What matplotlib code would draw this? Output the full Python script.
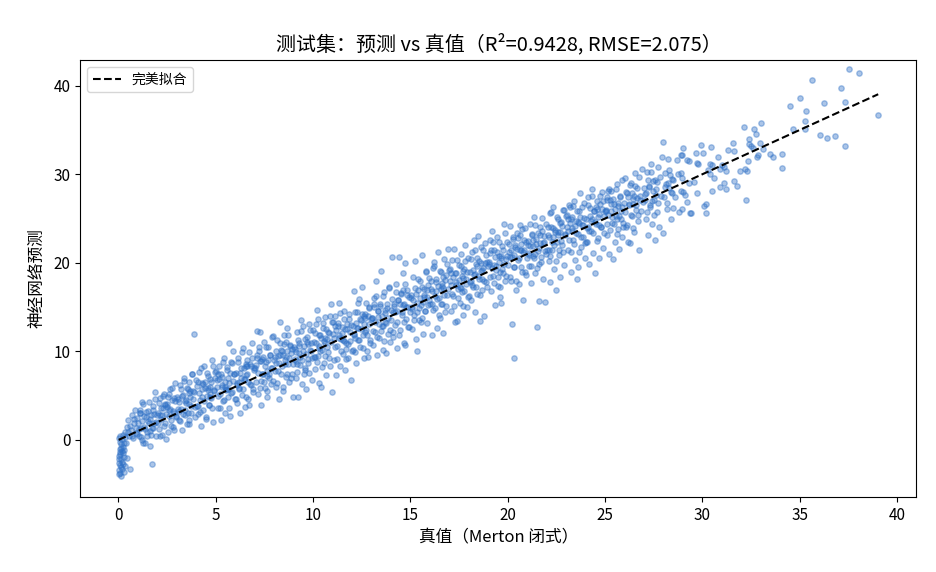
import numpy as np
import matplotlib
matplotlib.use("Agg")
import matplotlib.pyplot as plt

plt.rcParams["font.family"] = ["Noto Sans CJK SC", "DejaVu Sans"]
plt.rcParams["axes.unicode_minus"] = False

# 真值 (Merton closed form), one line per unit bin
true_vals = [
    0.02, 0.05, 0.08, 0.03, 0.10, 0.06, 0.12, 0.04, 0.15, 0.18, 0.20, 0.09, 0.22, 0.25, 0.30, 0.14, 0.35, 0.40, 0.45, 0.50, 0.55, 0.60, 0.65, 0.70, 0.75, 0.80, 0.85, 0.90, 0.95, 0.28, 0.33, 0.07,
    1.05, 1.10, 1.15, 1.20, 1.25, 1.30, 1.35, 1.40, 1.45, 1.50, 1.55, 1.60, 1.65, 1.70, 1.75, 1.80, 1.85, 1.90, 1.95, 1.22,
    2.05, 2.10, 2.15, 2.20, 2.25, 2.30, 2.35, 2.40, 2.45, 2.50, 2.55, 2.60, 2.65, 2.70, 2.75, 2.80, 2.85, 2.90, 2.95, 2.38,
    3.05, 3.10, 3.15, 3.20, 3.25, 3.30, 3.35, 3.40, 3.45, 3.50, 3.55, 3.60, 3.65, 3.70, 3.75, 3.80, 3.85, 3.90, 3.95, 3.42, 3.62,
    4.05, 4.10, 4.15, 4.20, 4.25, 4.30, 4.35, 4.40, 4.45, 4.50, 4.55, 4.60, 4.65, 4.70, 4.75, 4.80, 4.85, 4.90, 4.95, 4.28, 4.72,
    5.05, 5.10, 5.15, 5.20, 5.25, 5.30, 5.35, 5.40, 5.45, 5.50, 5.55, 5.60, 5.65, 5.70, 5.75, 5.80, 5.85, 5.90, 5.95, 5.32, 5.68,
    6.05, 6.10, 6.15, 6.20, 6.25, 6.30, 6.35, 6.40, 6.45, 6.50, 6.55, 6.60, 6.65, 6.70, 6.75, 6.80, 6.85, 6.90, 6.95, 6.22, 6.58,
    7.05, 7.10, 7.15, 7.20, 7.25, 7.30, 7.35, 7.40, 7.45, 7.50, 7.55, 7.60, 7.65, 7.70, 7.75, 7.80, 7.85, 7.90, 7.95, 7.28, 7.62,
    8.05, 8.10, 8.15, 8.20, 8.25, 8.30, 8.35, 8.40, 8.45, 8.50, 8.55, 8.60, 8.65, 8.70, 8.75, 8.80, 8.85, 8.90, 8.95, 8.32, 8.68,
    9.05, 9.10, 9.15, 9.20, 9.25, 9.30, 9.35, 9.40, 9.45, 9.50, 9.55, 9.60, 9.65, 9.70, 9.75, 9.80, 9.85, 9.90, 9.95, 9.28, 9.72,
    10.05, 10.10, 10.15, 10.20, 10.25, 10.30, 10.35, 10.40, 10.45, 10.50, 10.55, 10.60, 10.65, 10.70, 10.75, 10.80, 10.85, 10.90, 10.95, 10.28, 10.62,
    11.05, 11.10, 11.15, 11.20, 11.25, 11.30, 11.35, 11.40, 11.45, 11.50, 11.55, 11.60, 11.65, 11.70, 11.75, 11.80, 11.85, 11.90, 11.95, 11.32, 11.68,
    12.05, 12.10, 12.15, 12.20, 12.25, 12.30, 12.35, 12.40, 12.45, 12.50, 12.55, 12.60, 12.65, 12.70, 12.75, 12.80, 12.85, 12.90, 12.95, 12.32, 12.68,
    13.05, 13.10, 13.15, 13.20, 13.25, 13.30, 13.35, 13.40, 13.45, 13.50, 13.55, 13.60, 13.65, 13.70, 13.75, 13.80, 13.85, 13.90, 13.95, 13.32, 13.68,
    14.05, 14.10, 14.15, 14.20, 14.25, 14.30, 14.35, 14.40, 14.45, 14.50, 14.55, 14.60, 14.65, 14.70, 14.75, 14.80, 14.85, 14.90, 14.95, 14.32, 14.68,
    15.05, 15.10, 15.15, 15.20, 15.25, 15.30, 15.35, 15.40, 15.45, 15.50, 15.55, 15.60, 15.65, 15.70, 15.75, 15.80, 15.85, 15.90, 15.95, 15.32, 15.68,
    16.05, 16.10, 16.15, 16.20, 16.25, 16.30, 16.35, 16.40, 16.45, 16.50, 16.55, 16.60, 16.65, 16.70, 16.75, 16.80, 16.85, 16.90, 16.95, 16.32, 16.68,
    17.05, 17.10, 17.15, 17.20, 17.25, 17.30, 17.35, 17.40, 17.45, 17.50, 17.55, 17.60, 17.65, 17.70, 17.75, 17.80, 17.85, 17.90, 17.95, 17.32, 17.68,
    18.05, 18.10, 18.15, 18.20, 18.25, 18.30, 18.35, 18.40, 18.45, 18.50, 18.55, 18.60, 18.65, 18.70, 18.75, 18.80, 18.85, 18.90, 18.95, 18.32, 18.68,
    19.05, 19.10, 19.15, 19.20, 19.25, 19.30, 19.35, 19.40, 19.45, 19.50, 19.55, 19.60, 19.65, 19.70, 19.75, 19.80, 19.85, 19.90, 19.95, 19.32, 19.68,
    20.05, 20.10, 20.15, 20.20, 20.25, 20.30, 20.35, 20.40, 20.45, 20.50, 20.55, 20.60, 20.65, 20.70, 20.75, 20.80, 20.85, 20.90, 20.95, 20.32, 20.68,
    21.05, 21.10, 21.15, 21.20, 21.25, 21.30, 21.35, 21.40, 21.45, 21.50, 21.55, 21.60, 21.65, 21.70, 21.75, 21.80, 21.85, 21.90, 21.95, 21.32, 21.68,
    22.05, 22.10, 22.15, 22.20, 22.25, 22.30, 22.35, 22.40, 22.45, 22.50, 22.55, 22.60, 22.65, 22.70, 22.75, 22.80, 22.85, 22.90, 22.95, 22.32, 22.68,
    23.05, 23.10, 23.15, 23.20, 23.25, 23.30, 23.35, 23.40, 23.45, 23.50, 23.55, 23.60, 23.65, 23.70, 23.75, 23.80, 23.85, 23.90, 23.95, 23.32, 23.68,
    24.05, 24.10, 24.15, 24.20, 24.25, 24.30, 24.35, 24.40, 24.45, 24.50, 24.55, 24.60, 24.65, 24.70, 24.75, 24.80, 24.85, 24.90, 24.95, 24.32, 24.68,
    25.05, 25.10, 25.15, 25.20, 25.25, 25.30, 25.35, 25.40, 25.45, 25.50, 25.55, 25.60, 25.65, 25.70, 25.75, 25.80, 25.85, 25.90, 25.95, 25.32, 25.68,
    26.05, 26.10, 26.15, 26.20, 26.25, 26.30, 26.35, 26.40, 26.45, 26.50, 26.55, 26.60, 26.65, 26.70, 26.75, 26.80, 26.85, 26.90, 26.95, 26.42,
    27.05, 27.10, 27.15, 27.20, 27.25, 27.30, 27.35, 27.40, 27.45, 27.50, 27.55, 27.60, 27.65, 27.70, 27.75, 27.80, 27.85, 27.90, 27.95,
    28.00, 28.00, 28.10, 28.20, 28.30, 28.40, 28.50, 28.60, 28.70, 28.80, 28.90, 28.95, 28.45, 28.75, 28.25,
    28.90, 29.24, 29.30, 29.73, 29.80, 30.40, 30.50, 28.90, 28.95, 29.30, 29.60, 29.75, 29.20, 29.00, 29.10, 28.94, 29.37, 29.40, 30.10, 30.20,
    30.17, 30.52, 30.90, 31.10, 31.20, 31.65, 31.80, 32.26, 29.95, 30.47, 29.70, 30.05, 30.82, 29.00, 30.30, 30.40, 30.60, 31.20, 30.90, 31.00,
    31.10, 31.94, 32.20, 32.30, 32.37, 31.56, 31.34, 31.65, 32.50, 32.40, 32.60, 32.80, 32.85, 33.50, 33.65, 34.10, 34.10, 32.40, 32.97, 33.14,
    32.16, 32.67, 32.77, 33.03, 34.68, 35.27, 35.29, 34.52, 35.34, 35.02, 36.25, 37.35, 37.14, 35.65, 37.55, 38.07, 39.04, 36.05, 36.39, 36.82, 37.33,
]

# 神经网络预测, same order as true_vals
pred_vals = [
    -3.9, -3.4, -2.8, -2.2, -1.6, -1.0, -0.5, 0.2, -3.1, -2.5, -1.2, -0.2, 0.6, -0.8, -3.6, -4.1, 0.9, -0.3, 1.5, 2.2, 0.4, -3.3, 1.1, 2.8, 0.2, 1.9, 3.4, 0.8, 2.5, -1.9, -2.9, -1.4,
    1.2, 3.0, 0.3, 2.1, 4.1, 1.5, -0.4, 2.6, 0.9, 3.3, 1.9, 2.4, 0.6, -2.7, 3.8, 1.4, 2.9, 4.6, 2.0, 0.0,
    3.1, 1.2, 4.7, 2.4, 0.6, 3.6, 5.2, 1.9, 2.9, 4.1, 0.9, 3.4, 5.8, 2.2, 4.5, 1.5, 3.0, 6.4, 2.6, 3.9,
    4.6, 2.3, 6.2, 3.5, 1.1, 5.1, 7.0, 2.8, 4.2, 5.9, 3.1, 6.6, 1.8, 4.9, 3.8, 7.4, 5.5, 12.0, 2.6, 4.4, 5.3,
    6.1, 2.9, 7.7, 4.5, 1.6, 5.8, 3.4, 8.3, 6.6, 2.4, 5.0, 7.2, 3.9, 6.0, 4.7, 9.0, 2.0, 5.6, 7.0, 6.4, 5.2,
    6.8, 3.6, 8.4, 5.2, 2.3, 7.1, 4.4, 9.3, 6.0, 3.0, 5.6, 7.9, 4.9, 6.4, 2.7, 8.8, 5.4, 10.0, 7.4, 6.2, 11.0,
    7.6, 4.2, 9.3, 5.8, 3.0, 8.1, 5.1, 10.4, 6.9, 3.7, 7.3, 9.0, 4.6, 4.0, 8.6, 6.2, 10.9, 5.4, 7.9, 6.6, 8.4,
    8.5, 12.3, 5.2, 10.0, 12.2, 6.7, 3.9, 9.1, 7.4, 11.1, 5.9, 8.8, 4.9, 10.5, 7.0, 9.6, 6.3, 8.1, 11.7, 8.9, 7.8,
    9.4, 6.0, 11.3, 7.8, 4.6, 13.3, 10.2, 8.3, 5.5, 11.9, 9.0, 7.1, 12.6, 8.6, 6.5, 10.7, 9.8, 7.5, 4.9, 9.6, 10.1,
    10.3, 7.0, 12.2, 8.6, 4.9, 11.0, 9.4, 13.5, 6.3, 12.9, 10.6, 8.1, 5.8, 11.6, 9.1, 7.6, 12.4, 10.0, 6.8, 9.8, 10.8,
    11.1, 8.0, 13.1, 14.7, 9.5, 6.4, 11.8, 6.0, 10.2, 12.6, 8.7, 13.9, 7.3, 11.4, 9.9, 12.1, 8.3, 15.3, 5.4, 10.6, 11.0,
    12.0, 9.0, 14.0, 7.3, 10.6, 13.2, 15.5, 8.4, 11.4, 12.8, 9.7, 14.6, 7.9, 10.9, 12.5, 9.3, 13.7, 11.2, 6.8, 11.8, 10.3,
    12.9, 16.8, 9.9, 8.7, 14.5, 11.3, 15.9, 10.5, 13.5, 17.3, 11.9, 9.2, 14.2, 12.4, 10.0, 9.4, 15.0, 13.1, 11.0, 12.6, 13.8,
    13.8, 10.7, 16.0, 12.2, 17.9, 9.6, 14.6, 11.5, 15.4, 19.1, 12.9, 10.2, 16.7, 13.3, 9.8, 14.9, 12.0, 17.2, 11.1, 13.9, 14.3,
    20.7, 11.6, 15.1, 13.0, 17.6, 10.4, 15.8, 20.7, 12.4, 16.5, 14.1, 18.8, 11.0, 20.0, 10.7, 13.7, 16.9, 15.0, 12.8, 14.6, 15.3,
    16.0, 12.5, 18.4, 14.1, 20.2, 11.4, 10.0, 16.9, 13.6, 18.0, 15.2, 20.9, 12.0, 16.4, 14.6, 19.1, 13.2, 17.5, 15.8, 15.5, 16.1,
    17.0, 11.9, 19.4, 20.1, 14.9, 18.2, 12.6, 21.2, 16.0, 13.8, 19.0, 15.4, 17.7, 12.1, 20.4, 14.4, 18.6, 16.4, 21.6, 16.8, 17.2,
    18.0, 14.6, 20.3, 16.2, 21.6, 13.3, 18.9, 13.4, 17.1, 19.8, 15.5, 21.0, 16.7, 14.1, 19.3, 22.0, 17.6, 15.0, 20.6, 17.8, 18.3,
    19.0, 15.8, 21.2, 17.3, 22.6, 14.5, 19.9, 16.5, 20.6, 23.0, 18.2, 13.4, 21.8, 16.9, 19.4, 14.0, 22.2, 17.8, 20.1, 18.7, 19.2,
    20.1, 22.6, 16.8, 23.6, 18.5, 21.4, 15.2, 19.6, 22.9, 17.4, 20.8, 16.1, 15.5, 21.9, 18.9, 24.4, 17.9, 20.4, 22.3, 19.8, 20.6,
    21.2, 24.2, 18.0, 13.1, 22.7, 19.5, 9.3, 21.8, 16.9, 23.4, 20.3, 17.6, 24.3, 22.1, 19.0, 15.8, 21.5, 23.9, 18.6, 20.9, 21.4,
    22.0, 19.6, 24.4, 17.7, 23.1, 20.8, 25.2, 18.9, 22.7, 12.8, 21.3, 15.7, 24.0, 20.1, 23.6, 18.2, 22.4, 15.6, 21.0, 21.9, 22.2,
    23.1, 20.2, 25.6, 17.8, 24.0, 21.5, 26.3, 19.3, 23.7, 16.9, 22.4, 25.0, 20.9, 18.4, 24.6, 22.0, 26.0, 19.8, 23.3, 22.9, 23.5,
    24.1, 21.4, 26.5, 26.3, 19.0, 25.2, 22.6, 27.0, 20.3, 24.7, 18.2, 19.5, 25.9, 27.9, 21.8, 24.3, 22.9, 26.8, 20.6, 23.9, 24.5,
    25.0, 22.3, 27.4, 19.9, 26.2, 23.6, 28.3, 21.1, 25.8, 18.8, 24.4, 27.0, 22.8, 20.5, 26.6, 24.0, 28.0, 21.7, 25.3, 24.9, 25.5,
    26.0, 23.2, 28.1, 21.0, 27.1, 28.1, 24.5, 20.4, 26.7, 22.4, 25.3, 28.9, 23.8, 21.6, 27.5, 25.0, 22.9, 26.3, 24.1, 25.9, 26.4,
    29.6, 24.1, 27.9, 22.3, 26.5, 22.2, 29.0, 25.3, 27.2, 23.5, 30.1, 26.0, 28.4, 24.7, 21.4, 27.6, 25.8, 30.6, 26.9, 26.7,
    27.8, 25.0, 30.3, 23.2, 28.7, 26.3, 31.2, 24.4, 29.2, 27.1, 22.6, 28.3, 25.7, 30.8, 26.8, 24.0, 29.7, 27.5, 31.9,
    33.6, 23.4, 28.6, 26.1, 30.5, 24.9, 29.3, 27.4, 31.6, 25.7, 28.1, 32.2, 27.9, 30.0, 29.0,
    32.2, 31.6, 31.5, 31.3, 31.2, 31.2, 31.0, 30.1, 29.6, 29.0, 29.1, 27.9, 26.9, 28.0, 27.7, 26.1, 25.6, 25.6, 26.4, 26.6,
    25.6, 28.1, 28.6, 29.0, 28.3, 29.2, 28.7, 27.1, 33.3, 33.1, 32.4, 32.4, 32.0, 33.0, 30.5, 30.0, 29.6, 30.4, 30.6, 31.1,
    30.8, 30.4, 30.6, 30.4, 31.5, 33.5, 32.7, 32.6, 33.2, 33.4, 33.0, 32.0, 32.2, 32.3, 32.0, 32.3, 30.7, 34.0, 33.5, 32.9,
    35.3, 35.1, 34.5, 35.8, 35.1, 35.1, 36.0, 37.7, 37.2, 38.6, 38.0, 38.2, 39.7, 40.6, 41.9, 41.4, 36.7, 34.4, 34.1, 34.3, 33.2,
]

# second pass over the dense core of the cloud (points close to the diagonal)
true_vals_core = [
    0.01, 0.04, 0.06, 0.09, 0.11, 0.13, 0.16, 0.19, 0.21, 0.24, 0.27, 0.31, 0.36, 0.42, 0.48, 0.58, 0.68, 0.78, 0.88, 0.97,
    1.03, 1.08, 1.13, 1.18, 1.23, 1.28, 1.33, 1.38, 1.43, 1.48, 1.53, 1.58, 1.63, 1.68, 1.73, 1.78, 1.83, 1.88, 1.93, 1.98, 1.11, 1.61,
    2.03, 2.08, 2.13, 2.18, 2.23, 2.28, 2.33, 2.38, 2.43, 2.48, 2.53, 2.58, 2.63, 2.68, 2.73, 2.78, 2.83, 2.88, 2.93, 2.98, 2.11, 2.61,
    3.03, 3.08, 3.13, 3.18, 3.23, 3.28, 3.33, 3.38, 3.43, 3.48, 3.53, 3.58, 3.63, 3.68, 3.73, 3.78, 3.83, 3.88, 3.93, 3.98, 3.11, 3.61,
    4.03, 4.08, 4.13, 4.18, 4.23, 4.28, 4.33, 4.38, 4.43, 4.48, 4.53, 4.58, 4.63, 4.68, 4.73, 4.78, 4.83, 4.88, 4.93, 4.98, 4.11, 4.61,
    5.03, 5.08, 5.13, 5.18, 5.23, 5.28, 5.33, 5.38, 5.43, 5.48, 5.53, 5.58, 5.63, 5.68, 5.73, 5.78, 5.83, 5.88, 5.93, 5.98, 5.11, 5.61,
    6.03, 6.08, 6.13, 6.18, 6.23, 6.28, 6.33, 6.38, 6.43, 6.48, 6.53, 6.58, 6.63, 6.68, 6.73, 6.78, 6.83, 6.88, 6.93, 6.98, 6.11, 6.61,
    7.03, 7.08, 7.13, 7.18, 7.23, 7.28, 7.33, 7.38, 7.43, 7.48, 7.53, 7.58, 7.63, 7.68, 7.73, 7.78, 7.83, 7.88, 7.93, 7.98, 7.11, 7.61,
    8.03, 8.08, 8.13, 8.18, 8.23, 8.28, 8.33, 8.38, 8.43, 8.48, 8.53, 8.58, 8.63, 8.68, 8.73, 8.78, 8.83, 8.88, 8.93, 8.98, 8.11, 8.61,
    9.03, 9.08, 9.13, 9.18, 9.23, 9.28, 9.33, 9.38, 9.43, 9.48, 9.53, 9.58, 9.63, 9.68, 9.73, 9.78, 9.83, 9.88, 9.93, 9.98, 9.11, 9.61,
    10.03, 10.08, 10.13, 10.18, 10.23, 10.28, 10.33, 10.38, 10.43, 10.48, 10.53, 10.58, 10.63, 10.68, 10.73, 10.78, 10.83, 10.88, 10.93, 10.98, 10.11, 10.61,
    11.03, 11.08, 11.13, 11.18, 11.23, 11.28, 11.33, 11.38, 11.43, 11.48, 11.53, 11.58, 11.63, 11.68, 11.73, 11.78, 11.83, 11.88, 11.93, 11.98, 11.11, 11.61,
    12.03, 12.08, 12.13, 12.18, 12.23, 12.28, 12.33, 12.38, 12.43, 12.48, 12.53, 12.58, 12.63, 12.68, 12.73, 12.78, 12.83, 12.88, 12.93, 12.98, 12.11, 12.61,
    13.03, 13.08, 13.13, 13.18, 13.23, 13.28, 13.33, 13.38, 13.43, 13.48, 13.53, 13.58, 13.63, 13.68, 13.73, 13.78, 13.83, 13.88, 13.93, 13.98, 13.11, 13.61,
    14.03, 14.08, 14.13, 14.18, 14.23, 14.28, 14.33, 14.38, 14.43, 14.48, 14.53, 14.58, 14.63, 14.68, 14.73, 14.78, 14.83, 14.88, 14.93, 14.98, 14.11, 14.61,
    15.03, 15.08, 15.13, 15.18, 15.23, 15.28, 15.33, 15.38, 15.43, 15.48, 15.53, 15.58, 15.63, 15.68, 15.73, 15.78, 15.83, 15.88, 15.93, 15.98, 15.11, 15.61,
    16.03, 16.08, 16.13, 16.18, 16.23, 16.28, 16.33, 16.38, 16.43, 16.48, 16.53, 16.58, 16.63, 16.68, 16.73, 16.78, 16.83, 16.88, 16.93, 16.98, 16.11, 16.61,
    17.03, 17.08, 17.13, 17.18, 17.23, 17.28, 17.33, 17.38, 17.43, 17.48, 17.53, 17.58, 17.63, 17.68, 17.73, 17.78, 17.83, 17.88, 17.93, 17.98, 17.11, 17.61,
    18.03, 18.08, 18.13, 18.18, 18.23, 18.28, 18.33, 18.38, 18.43, 18.48, 18.53, 18.58, 18.63, 18.68, 18.73, 18.78, 18.83, 18.88, 18.93, 18.98, 18.11, 18.61,
    19.03, 19.08, 19.13, 19.18, 19.23, 19.28, 19.33, 19.38, 19.43, 19.48, 19.53, 19.58, 19.63, 19.68, 19.73, 19.78, 19.83, 19.88, 19.93, 19.98, 19.11, 19.61,
    20.03, 20.08, 20.13, 20.18, 20.23, 20.28, 20.33, 20.38, 20.43, 20.48, 20.53, 20.58, 20.63, 20.68, 20.73, 20.78, 20.83, 20.88, 20.93, 20.98, 20.11, 20.61,
    21.03, 21.08, 21.13, 21.18, 21.23, 21.28, 21.33, 21.38, 21.43, 21.48, 21.53, 21.58, 21.63, 21.68, 21.73, 21.78, 21.83, 21.88, 21.93, 21.98, 21.11, 21.61,
    22.03, 22.08, 22.13, 22.18, 22.23, 22.28, 22.33, 22.38, 22.43, 22.48, 22.53, 22.58, 22.63, 22.68, 22.73, 22.78, 22.83, 22.88, 22.93, 22.98, 22.11, 22.61,
    23.03, 23.08, 23.13, 23.18, 23.23, 23.28, 23.33, 23.38, 23.43, 23.48, 23.53, 23.58, 23.63, 23.68, 23.73, 23.78, 23.83, 23.88, 23.93, 23.98, 23.11, 23.61,
    24.03, 24.08, 24.13, 24.18, 24.23, 24.28, 24.33, 24.38, 24.43, 24.48, 24.53, 24.58, 24.63, 24.68, 24.73, 24.78, 24.83, 24.88, 24.93, 24.98, 24.11, 24.61,
    25.03, 25.08, 25.13, 25.18, 25.23, 25.28, 25.33, 25.38, 25.43, 25.48, 25.53, 25.58, 25.63, 25.68, 25.73, 25.78, 25.83, 25.88, 25.93, 25.98, 25.11, 25.61,
    26.03, 26.08, 26.13, 26.18, 26.23, 26.28, 26.33, 26.38, 26.43, 26.48, 26.53, 26.58, 26.63, 26.68, 26.73, 26.78,
    27.03, 27.08, 27.13, 27.18, 27.23, 27.28, 27.33, 27.38, 27.43, 27.48, 27.53, 27.58, 27.63, 27.68,
    28.03, 28.08, 28.13, 28.18, 28.23, 28.28, 28.33, 28.38, 28.43, 28.48,
]

pred_vals_core = [
    -2.6, -1.8, -3.7, 0.5, -2.1, -0.9, -3.3, 0.1, -1.5, -2.7, -0.4, -1.1, 0.3, -2.0, 0.9, 1.6, 0.5, 2.4, 1.3, 0.7,
    1.9, 0.4, 3.4, 1.4, 4.3, -0.3, 2.7, 1.2, 3.2, 0.4, 2.1, 4.3, -0.7, 2.8, 1.3, 3.4, 1.9, 5.4, 0.5, 2.8, 3.1, 1.0,
    1.9, 4.2, 0.5, 3.6, 2.8, 5.0, 1.6, 4.1, 0.1, 3.7, 4.9, 2.7, 3.5, 1.6, 5.9, 3.3, 4.7, 1.1, 4.4, 2.7, 2.8, 5.2,
    4.9, 3.5, 4.3, 2.1, 5.7, 5.0, 2.9, 6.7, 3.4, 4.5, 1.8, 5.8, 4.1, 5.5, 3.1, 7.5, 4.6, 5.4, 3.7, 6.8, 3.3, 2.3,
    3.8, 6.5, 5.3, 3.2, 8.1, 4.8, 6.3, 4.4, 5.9, 2.6, 7.6, 5.6, 3.9, 6.9, 4.9, 6.6, 3.6, 8.4, 5.5, 7.7, 3.8, 5.9,
    7.8, 6.0, 5.0, 6.9, 3.6, 7.4, 6.0, 8.8, 4.5, 6.6, 5.8, 8.2, 7.0, 3.6, 7.6, 5.3, 8.7, 6.7, 7.5, 4.6, 7.4, 5.7,
    4.6, 6.2, 8.8, 5.9, 7.6, 7.0, 9.9, 5.7, 8.1, 6.9, 8.6, 4.8, 7.5, 6.6, 9.9, 6.3, 8.4, 9.3, 5.7, 8.1, 6.4, 8.4,
    8.1, 6.6, 9.6, 7.6, 10.5, 5.9, 8.9, 7.4, 9.4, 6.6, 8.3, 10.5, 5.5, 9.0, 7.5, 9.6, 8.1, 11.6, 6.7, 9.0, 9.3, 7.2,
    7.8, 10.1, 6.4, 9.5, 8.7, 10.9, 7.5, 10.0, 6.0, 9.6, 10.8, 8.6, 9.4, 7.5, 11.8, 9.2, 10.6, 7.0, 10.3, 8.6, 8.7, 11.1,
    10.5, 9.1, 9.9, 7.7, 11.3, 10.6, 8.5, 12.3, 9.0, 10.1, 7.4, 11.4, 9.7, 11.1, 8.7, 13.1, 10.2, 11.0, 9.3, 12.4, 8.9, 7.9,
    9.4, 12.1, 10.9, 8.8, 13.7, 10.4, 11.9, 10.0, 11.5, 8.2, 13.2, 11.2, 9.5, 12.5, 10.5, 12.2, 9.2, 14.0, 11.1, 13.3, 9.4, 11.5,
    13.3, 11.5, 10.5, 12.4, 9.1, 12.9, 11.5, 14.3, 10.0, 12.1, 11.3, 13.7, 12.5, 9.1, 13.1, 10.8, 14.2, 12.2, 13.0, 10.1, 12.9, 11.2,
    10.2, 11.8, 14.4, 11.5, 13.2, 12.6, 15.5, 11.3, 13.7, 12.5, 14.2, 10.4, 13.1, 12.2, 15.5, 11.9, 14.0, 14.9, 11.3, 13.7, 12.0, 14.0,
    13.8, 12.3, 15.3, 13.3, 16.2, 11.6, 14.6, 13.1, 15.1, 12.3, 14.0, 16.2, 11.2, 14.7, 13.2, 15.3, 13.8, 17.3, 12.4, 14.7, 15.0, 12.9,
    13.6, 15.9, 12.2, 15.3, 14.5, 16.7, 13.3, 15.8, 11.8, 15.4, 16.6, 14.4, 15.2, 13.3, 17.6, 15.0, 16.4, 12.8, 16.1, 14.4, 14.5, 16.9,
    16.4, 15.0, 15.8, 13.6, 17.2, 16.5, 14.4, 18.2, 14.9, 16.0, 13.3, 17.3, 15.6, 17.0, 14.6, 19.0, 16.1, 16.9, 15.2, 18.3, 14.8, 13.8,
    15.3, 18.0, 16.8, 14.7, 19.6, 16.3, 17.8, 15.9, 17.4, 14.1, 19.1, 17.1, 15.4, 18.4, 16.4, 18.1, 15.1, 19.9, 17.0, 19.2, 15.3, 17.4,
    19.3, 17.5, 16.5, 18.4, 15.1, 18.9, 17.5, 20.3, 16.0, 18.1, 17.3, 19.7, 18.5, 15.1, 19.1, 16.8, 20.2, 18.2, 19.0, 16.1, 18.9, 17.2,
    16.2, 17.8, 20.4, 17.5, 19.2, 18.6, 21.5, 17.3, 19.7, 18.5, 20.2, 16.4, 19.1, 18.2, 21.5, 17.9, 20.0, 20.9, 17.3, 19.7, 18.0, 20.0,
    19.9, 18.4, 21.4, 19.4, 22.3, 17.7, 20.7, 19.2, 21.2, 18.4, 20.1, 22.3, 17.3, 20.8, 19.3, 21.4, 19.9, 23.4, 18.5, 20.8, 21.1, 19.0,
    19.8, 22.1, 18.4, 21.5, 20.7, 22.9, 19.5, 22.0, 18.0, 21.6, 22.8, 20.6, 21.4, 19.5, 23.8, 21.2, 22.6, 19.0, 22.3, 20.6, 20.7, 23.1,
    22.5, 21.1, 21.9, 19.7, 23.3, 22.6, 20.5, 24.3, 21.0, 22.1, 19.4, 23.4, 21.7, 23.1, 20.7, 25.1, 22.2, 23.0, 21.3, 24.4, 20.9, 19.9,
    21.4, 24.1, 22.9, 20.8, 25.7, 22.4, 23.9, 22.0, 23.5, 20.2, 25.2, 23.2, 21.5, 24.5, 22.5, 24.2, 21.2, 26.0, 23.1, 25.3, 21.4, 23.5,
    25.4, 23.6, 22.6, 24.5, 21.2, 25.0, 23.6, 26.4, 22.1, 24.2, 23.4, 25.8, 24.6, 21.2, 25.2, 22.9, 26.3, 24.3, 25.1, 22.2, 25.0, 23.3,
    22.3, 23.9, 26.5, 23.6, 25.3, 24.7, 27.6, 23.4, 25.8, 24.6, 26.3, 22.5, 25.2, 24.3, 27.6, 24.0, 26.1, 27.0, 23.4, 25.8, 24.1, 26.1,
    25.9, 24.4, 27.4, 25.4, 28.3, 23.7, 26.7, 25.2, 27.2, 24.4, 26.1, 28.3, 23.3, 26.8, 25.3, 27.4, 25.9, 29.4, 24.5, 26.8, 27.1, 25.0,
    25.7, 28.0, 24.3, 27.4, 26.6, 28.8, 25.4, 27.9, 23.9, 27.5, 28.7, 26.5, 27.3, 25.4, 29.7, 27.1,
    28.5, 27.1, 27.9, 25.7, 29.3, 28.6, 26.5, 30.3, 27.0, 28.1, 25.4, 29.4, 27.7, 29.1,
    27.4, 30.1, 28.9, 26.8, 31.7, 28.4, 29.9, 28.0, 29.5, 26.2,
]

title = "测试集：预测 vs 真值（R²=0.9428, RMSE=2.075）"

y_true = np.array(true_vals + true_vals_core)
y_pred = np.array(pred_vals + pred_vals_core)

fig, ax = plt.subplots(figsize=(9.36, 5.72), dpi=100)
fig.subplots_adjust(left=0.086, right=0.979, top=0.895, bottom=0.131)

ax.scatter(y_true, y_pred, s=15, color="#2e70c6", alpha=0.4)

lo, hi = y_true.min(), y_true.max()
ax.plot([lo, hi], [lo, hi], "k--", lw=1.5, label="完美拟合")

ax.set_xlim(-1.95, 41.0)
ax.set_ylim(-6.45, 42.9)
ax.set_xlabel("真值（Merton 闭式）", fontsize=12)
ax.set_ylabel("神经网络预测", fontsize=12, labelpad=6)
ax.set_title(title, fontsize=14.4, pad=7)
ax.tick_params(labelsize=11)
ax.legend(loc="upper left", fontsize=10)

fig.savefig("out.png", dpi=100)
plt.close(fig)
